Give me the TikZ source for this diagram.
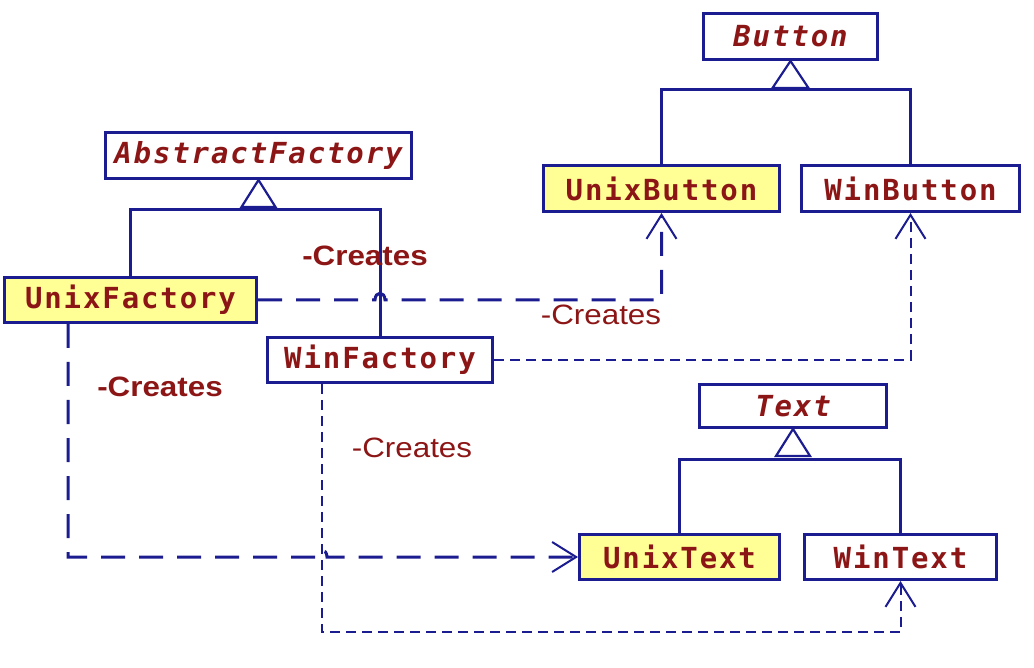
\documentclass[tikz,border=0pt]{standalone}
\usepackage{fontspec}
\usetikzlibrary{arrows.meta}
\newfontfamily\boxfont[LetterSpace=6.5,BoldFont={DejaVu Sans Mono Bold},BoldItalicFont={DejaVu Sans Mono Bold Oblique},ItalicFont={DejaVu Sans Mono Oblique}]{DejaVu Sans Mono}
\newfontfamily\lblfont[FakeStretch=1.12]{Liberation Sans}
\definecolor{umlblue}{RGB}{28,28,145}
\definecolor{umlred}{RGB}{140,22,22}
\definecolor{umlyellow}{RGB}{255,255,150}
\tikzset{
  cls/.style={draw=umlblue, line width=3pt, fill=white, text=umlred,
    font=\boxfont\bfseries\fontsize{29}{32}\selectfont, inner sep=0pt},
  abs/.style={cls, font=\boxfont\bfseries\itshape\fontsize{29}{32}\selectfont},
  impl/.style={cls, fill=umlyellow},
  gen/.style={draw=umlblue, line width=3pt},
  tri/.style={draw=umlblue, line width=2.2pt, fill=white, line join=miter},
  depthick/.style={draw=umlblue, line width=3pt, dash pattern=on 24pt off 14pt,
    -{Straight Barb[length=24pt,width=30pt,line width=2pt]}},
  depthin/.style={draw=umlblue, line width=2pt, dash pattern=on 10pt off 6pt,
    -{Straight Barb[length=24pt,width=30pt,line width=2pt]}},
  lblbold/.style={text=umlred, font=\lblfont\bfseries\fontsize{28}{30}\selectfont},
  lblnorm/.style={text=umlred, font=\lblfont\fontsize{28}{30}\selectfont},
}
\begin{document}
\begin{tikzpicture}[x=1pt,y=-1pt]
\useasboundingbox (0,0) rectangle (1034,668);
% classes
\node[abs,  minimum width=306pt, minimum height=46pt] (AF) at (258.5,155.5) {AbstractFactory};
\node[impl, minimum width=252pt, minimum height=45pt] (UF) at (130.5,300) {UnixFactory};
\node[cls,  minimum width=225pt, minimum height=45pt] (WF) at (380,360) {WinFactory};
\node[abs,  minimum width=174pt, minimum height=46pt] (B)  at (790.5,36.5) {Button};
\node[impl, minimum width=236pt, minimum height=46pt] (UB) at (661.5,188.5) {UnixButton};
\node[cls,  minimum width=218pt, minimum height=46pt] (WB) at (910.5,188.5) {WinButton};
\node[abs,  minimum width=187pt, minimum height=43pt] (T)  at (793,406) {Text};
\node[impl, minimum width=200pt, minimum height=45pt] (UT) at (679.5,557) {UnixText};
\node[cls,  minimum width=192pt, minimum height=45pt] (WT) at (900.5,557) {WinText};
% generalization bars
\coordinate (afb) at (AF.south |- 0,210);
\coordinate (bb)  at (B.south |- 0,90);
\coordinate (tb)  at (T.south |- 0,459);
\draw[gen] (UF.north) |- (afb) -| (WF.north);
\draw[gen] (UB.north) |- (bb) -| (WB.north);
\draw[gen] (UT.north) |- (tb) -| (WT.north);
\draw[tri] (AF.south) -- ++(-17,27) -- ++(34,0) -- cycle;
\draw[tri] (B.south) -- ++(-18,27) -- ++(36,0) -- cycle;
\draw[tri] (T.south) -- ++(-17,27) -- ++(34,0) -- cycle;
% dependencies
\coordinate (h1) at (WF.north |- UF.east);
\draw[depthick] (UF.east) -- ([xshift=-5pt]h1)
  .. controls ([xshift=-5pt,yshift=9pt]h1) and ([xshift=5pt,yshift=9pt]h1) .. ([xshift=5pt]h1)
  -| (UB.south);
\coordinate (wfe) at (WF.east);
\draw[depthin] (wfe) -| (WB.south);
\coordinate (ufb) at ([xshift=65pt]UF.south west);
\coordinate (wfb) at ([xshift=56pt]WF.south west);
\coordinate (h2) at (wfb |- UT.west);
\draw[depthick] (ufb) |- ([xshift=-5pt]h2)
  .. controls ([xshift=-5pt,yshift=9pt]h2) and ([xshift=5pt,yshift=9pt]h2) .. ([xshift=5pt]h2)
  -- (UT.west);
\coordinate (wtl) at (wfb |- 0,632);
\draw[depthin] (wfb) -- (wtl) -| (WT.south);
% labels
\node[lblbold] (l1) at (365,256) {-Creates};
\node[lblnorm] (l2) at (601,315) {-Creates};
\node[lblbold] (l3) at (160,387) {-Creates};
\node[lblnorm] (l4) at (412,448) {-Creates};
\end{tikzpicture}
\end{document}
